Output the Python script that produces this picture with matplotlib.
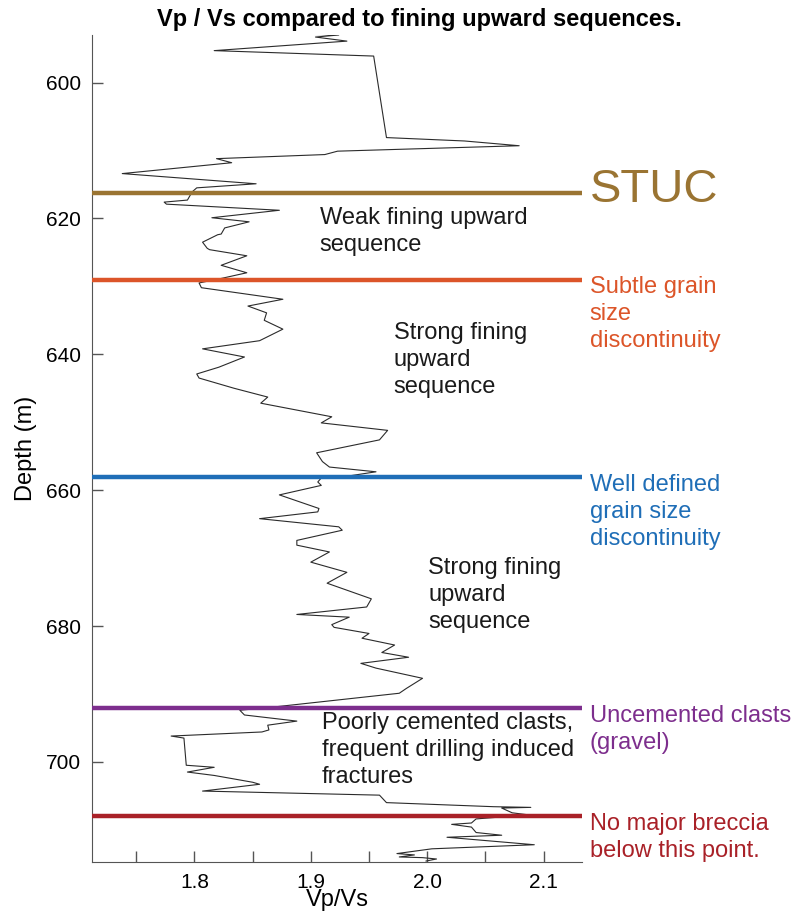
import matplotlib.pyplot as plt
from matplotlib.ticker import MultipleLocator

plt.rcParams['font.family'] = ['Liberation Sans', 'DejaVu Sans']

# Vp/Vs log against depth (m)
vp_vs = [1.873, 1.924, 1.904, 1.931, 1.817, 1.954, 1.965, 2.032, 2.079, 1.923,
         1.912, 1.819, 1.832, 1.738, 1.853, 1.802, 1.798, 1.794, 1.774, 1.776,
         1.873, 1.815, 1.847, 1.826, 1.823, 1.820, 1.807, 1.811, 1.813, 1.845,
         1.823, 1.845, 1.824, 1.804, 1.806, 1.876, 1.846, 1.862, 1.860, 1.876,
         1.856, 1.807, 1.843, 1.821, 1.802, 1.804, 1.834, 1.863, 1.857, 1.918,
         1.909, 1.966, 1.959, 1.905, 1.910, 1.916, 1.956, 1.933, 1.909, 1.906,
         1.909, 1.873, 1.907, 1.906, 1.856, 1.924, 1.927, 1.888, 1.888, 1.916,
         1.900, 1.931, 1.914, 1.952, 1.948, 1.888, 1.933, 1.918, 1.920, 1.950,
         1.944, 1.972, 1.961, 1.984, 1.943, 1.956, 1.996, 1.982, 1.976, 1.864,
         1.839, 1.843, 1.888, 1.863, 1.864, 1.858, 1.780, 1.791, 1.793, 1.817,
         1.794, 1.817, 1.850, 1.856, 1.807, 1.959, 1.965, 2.057, 2.089, 2.064,
         2.073, 2.087, 2.042, 2.038, 2.021, 2.038, 2.042, 2.064, 2.017, 2.092,
         2.004, 1.974, 1.989, 1.976, 1.996, 2.008, 1.999]
depth = [592.8, 593.0, 593.3, 593.9, 595.3, 596.1, 608.1, 608.6, 609.3, 610.1,
         610.6, 611.2, 611.8, 613.4, 614.9, 615.5, 616.1, 617.3, 617.6, 617.9,
         618.8, 619.9, 620.5, 621.4, 622.3, 622.4, 623.5, 624.4, 624.6, 625.5,
         626.9, 628.0, 628.8, 629.5, 630.2, 631.9, 632.9, 633.9, 635.0, 636.3,
         638.0, 639.2, 640.4, 641.9, 642.9, 643.5, 645.0, 646.3, 647.2, 649.2,
         650.1, 651.2, 652.6, 654.5, 655.8, 656.6, 657.3, 657.9, 658.2, 658.8,
         659.3, 660.7, 662.7, 663.2, 664.2, 665.4, 665.9, 667.4, 668.1, 669.1,
         670.6, 672.1, 673.7, 676.0, 677.2, 678.3, 678.7, 679.8, 680.2, 681.1,
         681.8, 682.8, 683.9, 684.6, 685.5, 686.2, 687.7, 689.2, 689.9, 692.0,
         692.4, 693.1, 694.0, 694.6, 695.3, 695.6, 696.2, 696.5, 700.5, 700.8,
         701.5, 702.0, 703.0, 703.3, 704.3, 704.9, 706.0, 706.6, 706.7, 706.8,
         707.5, 707.8, 708.4, 709.0, 709.2, 709.6, 710.4, 710.8, 711.1, 712.2,
         712.8, 713.5, 713.7, 714.0, 714.1, 714.3, 714.6]

# Boundary depths with their right-hand labels
boundary_depths = [616.2, 629.1, 658.1, 692.1, 708.0]
boundary_colors = ['#9A7432', '#DC5529', '#1F6EB7', '#7D2E8D', '#A92128']
boundary_labels = ['STUC', 'Subtle grain\nsize\ndiscontinuity',
                   'Well defined\ngrain size\ndiscontinuity',
                   'Uncemented clasts\n(gravel)',
                   'No major breccia\nbelow this point.']
label_depths = [615.8, 634.1, 663.2, 695.2, 711.1]
label_sizes = [34, 17, 17, 17, 17]

# Interval descriptions inside the plot
interval_texts = ['Weak fining upward\nsequence',
                  'Strong fining\nupward\nsequence',
                  'Strong fining\nupward\nsequence',
                  'Poorly cemented clasts,\nfrequent drilling induced\nfractures']
interval_x = [0.465, 0.616, 0.686, 0.469]
interval_depths = [621.9, 640.8, 675.4, 698.3]

fig = plt.figure(figsize=(7.95, 9.14), dpi=100)
ax = fig.add_axes([0.1157, 0.0572, 0.6164, 0.9045])

ax.plot(vp_vs, depth, color='#2b2b2b', lw=0.8, zorder=2)

for d, c, lab, ld, fs in zip(boundary_depths, boundary_colors, boundary_labels,
                             label_depths, label_sizes):
    ax.axhline(d, color=c, lw=3.2, zorder=3)
    ax.text(1.016, ld, lab, color=c, fontsize=fs, ha='left', va='center',
            linespacing=1.3, transform=ax.get_yaxis_transform(), clip_on=False)

for t, x, d in zip(interval_texts, interval_x, interval_depths):
    ax.text(x, d, t, color='#1a1a1a', fontsize=17, ha='left', va='center',
            linespacing=1.3, transform=ax.get_yaxis_transform())

ax.set_xlim(1.712, 2.133)
ax.set_ylim(714.7, 593.0)
ax.xaxis.set_major_locator(MultipleLocator(0.1))
ax.xaxis.set_minor_locator(MultipleLocator(0.05))
ax.yaxis.set_major_locator(MultipleLocator(20))
ax.tick_params(which='both', direction='in', length=8, width=1, color='#555555',
               labelsize=15, pad=8)

for side in ['top', 'right']:
    ax.spines[side].set_visible(False)
for side in ['left', 'bottom']:
    ax.spines[side].set_color('#555555')

ax.set_xlabel('Vp/Vs', fontsize=17, labelpad=-2)
ax.set_ylabel('Depth (m)', fontsize=17, labelpad=6)

fig.text(0.528, 0.979, 'Vp / Vs compared to fining upward sequences.',
         fontsize=17, fontweight='bold', ha='center', va='center')

fig.savefig('out.png', dpi=100)
